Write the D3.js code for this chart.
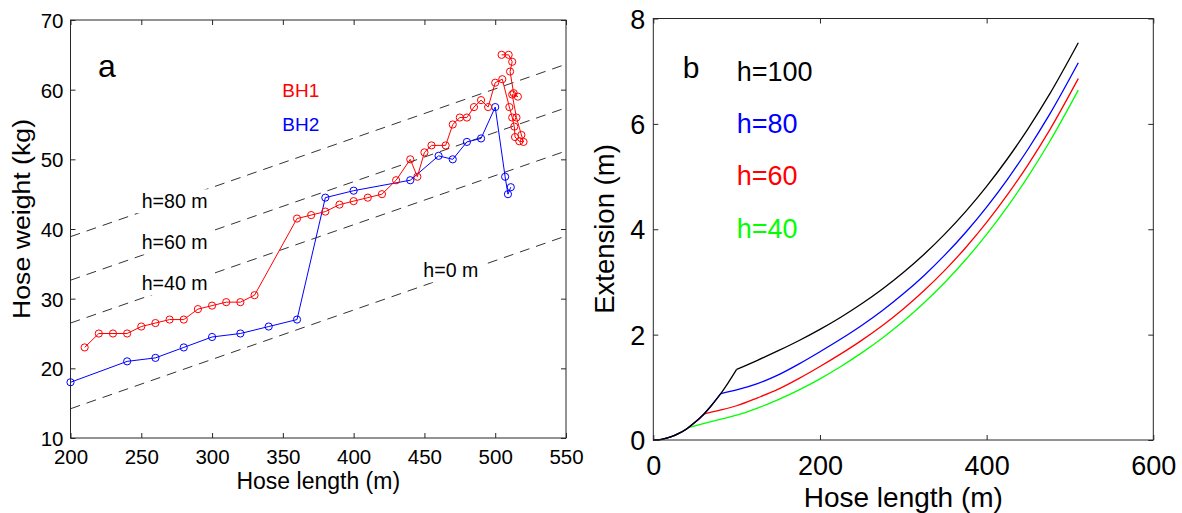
<!DOCTYPE html>
<html><head><meta charset="utf-8">
<script src="https://cdn.jsdelivr.net/npm/d3@7"></script>
<style>
html,body{margin:0;padding:0;background:#fff;}
svg text{font-family:"Liberation Sans",Arial,sans-serif;}
</style></head>
<body>
<svg id="chart" width="1182" height="513"></svg>
<script>
// ---------- Panel a data ----------
const xTicksA = [200,250,300,350,400,450,500,550];
const yTicksA = [10,20,30,40,50,60,70];
const bh1Length = [210,220,230,240,250,260,270,280,290,300,310,320,330,360,370,380,390,400,410,420,430,440,445,450,455,465,470,475,480,485,490,495,500,505,
  510,512,513.5,514,517,520,518.5,515,512,516,513,510.5,512,509.5,504.5];
const bh1Weight = [23,25,25,25,26,26.5,27,27,28.5,29,29.5,29.5,30.5,41.5,42,42.5,43.5,44,44.5,45,47,50,47.5,51,52,52,55,56,56,57.5,58.5,57.5,61,61.5,
  57.5,56,54.7,53.2,52.6,52.5,53.5,56,59.3,59,59.5,62.6,64,65,65];
const bh2Length = [200,240,260,280,300,320,340,360,380,400,440,460,470,480,490,500,507,509,511];
const bh2Weight = [18,21,21.5,23,24.5,25,26,27,44.5,45.5,47,50.5,50,52.5,53,57.5,47.5,45,46];
const refLength = [200,550];
const refH80 = [38.9,63.65];
const refH60 = [32.65,57.4];
const refH40 = [26.5,51.2];
const refH0  = [14.2,39.0];
const refLabels = ["h=80 m","h=60 m","h=40 m","h=0 m"];

// ---------- Panel b data ----------
const xTicksB = [0,200,400,600];
const yTicksB = [0,2,4,6,8];
const len100 = [0,10,20,30,40,50,60,70,80,90,100,125,150,175,200,225,250,275,300,325,350,375,400,425,450,475,510];
const ext100 = [0,0.013,0.054,0.12,0.21,0.335,0.48,0.66,0.86,1.09,1.34,1.513,1.695,1.889,2.10,2.33,2.585,2.866,3.179,3.526,3.912,4.34,4.814,5.338,5.915,6.549,7.54];
const len80 = [0,10,20,30,40,50,60,70,81,100,125,150,175,200,225,250,275,300,325,350,375,400,425,450,475,510];
const ext80 = [0,0.013,0.054,0.12,0.21,0.335,0.48,0.66,0.88,0.95,1.07,1.235,1.445,1.675,1.916,2.174,2.458,2.774,3.124,3.513,3.944,4.421,4.948,5.528,6.165,7.16];
const len60 = [0,10,20,30,40,50,61,80,100,125,150,175,200,225,250,275,300,325,350,375,400,425,450,475,510];
const ext60 = [0,0.013,0.054,0.12,0.21,0.335,0.495,0.565,0.65,0.80,0.965,1.17,1.395,1.634,1.891,2.173,2.488,2.837,3.224,3.654,4.129,4.655,5.233,5.868,6.86];
const len40 = [0,10,20,30,42,60,80,100,125,150,175,200,225,250,275,300,325,350,375,400,425,450,475,510];
const ext40 = [0,0.013,0.054,0.12,0.236,0.31,0.39,0.47,0.605,0.765,0.95,1.16,1.394,1.653,1.937,2.253,2.604,2.993,3.425,3.901,4.429,5.009,5.646,6.64];
const kinkIndex = {h100:10, h80:8, h60:6, h40:4};
const curveLabels = ["h=100","h=80","h=60","h=40"];

const svg = d3.select("#chart");
const AX = "#262626";

// ================= Panel a =================
const xa = d3.scaleLinear().domain([200,550]).range([70.5,566]);
const ya = d3.scaleLinear().domain([10,70]).range([438,20]);
const ga = svg.append("g");

const refSets = [refH80, refH60, refH40, refH0];
refSets.forEach(w => {
  ga.append("line")
    .attr("x1", xa(refLength[0])).attr("y1", ya(w[0]))
    .attr("x2", xa(refLength[1])).attr("y2", ya(w[1]))
    .attr("stroke","#333").attr("stroke-width",1).attr("stroke-dasharray","10,7");
});

const refLabelPos = [[141.7,208.3],[141.7,249.3],[141.7,290],[423.3,277.3]];
refLabels.forEach((t,i) => {
  const tx = ga.append("text").attr("x",refLabelPos[i][0]).attr("y",refLabelPos[i][1])
    .attr("font-size",19.6).attr("fill","#000").text(t);
  const bb = tx.node().getBBox();
  ga.insert("rect", () => tx.node())
    .attr("x",bb.x-5).attr("y",bb.y-1).attr("width",bb.width+10).attr("height",bb.height+2)
    .attr("fill","#fff");
});

function drawSeries(g, xs, ys, color, xScale, yScale){
  const pts = xs.map((x,i)=>[x, ys[i]]);
  g.append("path").datum(pts)
    .attr("d", d3.line().x(d=>xScale(d[0])).y(d=>yScale(d[1])))
    .attr("fill","none").attr("stroke",color).attr("stroke-width",1);
  g.selectAll(null).data(pts).enter().append("circle")
    .attr("cx",d=>xScale(d[0])).attr("cy",d=>yScale(d[1])).attr("r",3.6)
    .attr("fill","none").attr("stroke",color).attr("stroke-width",1);
}
drawSeries(ga, bh2Length, bh2Weight, "#0000ff", xa, ya);
drawSeries(ga, bh1Length, bh1Weight, "#ff0000", xa, ya);

function boxAxes(g, x, y, xt, yt, fs, xPad, yPad){
  const [x0,x1] = x.range(), [y0,y1] = y.range();
  g.append("rect").attr("x",x0).attr("y",y1).attr("width",x1-x0).attr("height",y0-y1)
    .attr("fill","none").attr("stroke",AX).attr("stroke-width",1);
  const bottom = g.append("g").attr("transform",`translate(0,${y0})`)
    .call(d3.axisBottom(x).tickValues(xt).tickSizeInner(-5).tickSizeOuter(0).tickPadding(0));
  const top = g.append("g").attr("transform",`translate(0,${y1})`)
    .call(d3.axisTop(x).tickValues(xt).tickSizeInner(-5).tickSizeOuter(0).tickFormat(""));
  const left = g.append("g").attr("transform",`translate(${x0},0)`)
    .call(d3.axisLeft(y).tickValues(yt).tickSizeInner(-5).tickSizeOuter(0).tickPadding(yPad));
  const right = g.append("g").attr("transform",`translate(${x1},0)`)
    .call(d3.axisRight(y).tickValues(yt).tickSizeInner(-5).tickSizeOuter(0).tickFormat(""));
  [bottom,top,left,right].forEach(a=>{
    a.select(".domain").remove();
    a.selectAll("line").attr("stroke",AX);
    a.selectAll("text").attr("font-size",fs).attr("fill","#000").attr("font-family","Liberation Sans, Arial, sans-serif");
  });
  bottom.selectAll("text").attr("dy",null).attr("y",xPad);
  left.selectAll("text").attr("dy","0.36em");
}
boxAxes(ga, xa, ya, xTicksA, yTicksA, 20.5, 25.5, 7);

ga.append("text").attr("x",(70.5+566)/2).attr("y",489).attr("text-anchor","middle")
  .attr("font-size",23).text("Hose length (m)");
ga.append("text").attr("transform","translate(30,219) rotate(-90)").attr("text-anchor","middle")
  .attr("font-size",23).attr("textLength",200).attr("lengthAdjust","spacingAndGlyphs").text("Hose weight (kg)");
ga.append("text").attr("x",98).attr("y",77).attr("font-size",32).text("a");
ga.append("text").attr("x",282.3).attr("y",97.3).attr("font-size",19).attr("fill","#ff0000").text("BH1");
ga.append("text").attr("x",282.3).attr("y",130.7).attr("font-size",19).attr("fill","#0000ff").text("BH2");

// ================= Panel b =================
const xb = d3.scaleLinear().domain([0,600]).range([653.3,1153.3]);
const yb = d3.scaleLinear().domain([0,8]).range([440,18.5]);
const gb = svg.append("g");
const lineB = d3.line().x(d=>xb(d[0])).y(d=>yb(d[1])).curve(d3.curveMonotoneX);
const curves = [
  {len:len40, ext:ext40, k:kinkIndex.h40, color:"#00ff00"},
  {len:len60, ext:ext60, k:kinkIndex.h60, color:"#ff0000"},
  {len:len80, ext:ext80, k:kinkIndex.h80, color:"#0000ff"},
  {len:len100, ext:ext100, k:kinkIndex.h100, color:"#000000"}
];
curves.forEach(c=>{
  const pts = c.len.map((x,i)=>[x,c.ext[i]]);
  [pts.slice(0,c.k+1), pts.slice(c.k)].forEach(seg=>{
    gb.append("path").datum(seg).attr("d",lineB)
      .attr("fill","none").attr("stroke",c.color).attr("stroke-width",1.3);
  });
});
boxAxes(gb, xb, yb, xTicksB, yTicksB, 27, 35, 8);

gb.append("text").attr("x",(653.3+1153.3)/2).attr("y",507).attr("text-anchor","middle")
  .attr("font-size",28).text("Hose length (m)");
gb.append("text").attr("transform","translate(614,229) rotate(-90)").attr("text-anchor","middle")
  .attr("font-size",27.5).text("Extension (m)");
gb.append("text").attr("x",682.7).attr("y",78.3).attr("font-size",30).text("b");
const labelColors = ["#000000","#0000ff","#ff0000","#00ff00"];
const labelY = [81,132.7,185,237.7];
curveLabels.forEach((t,i)=>{
  gb.append("text").attr("x",736.7).attr("y",labelY[i]).attr("font-size",27)
    .attr("fill",labelColors[i]).text(t);
});
</script>
</body></html>
